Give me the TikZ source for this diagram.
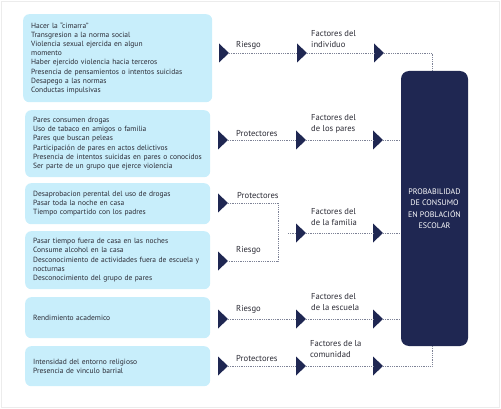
\documentclass[tikz,border=0pt]{standalone}
\usepackage{fontspec}
\setmainfont{PT Sans}
\definecolor{navy}{HTML}{1F2752}
\definecolor{lblue}{HTML}{C8EEFB}
\definecolor{txt}{HTML}{2B2B35}
\definecolor{dots}{HTML}{7D8296}
\definecolor{frame}{HTML}{ECECEC}
\tikzset{
 catbox/.style={fill=lblue, rounded corners=6pt, inner xsep=8pt, inner ysep=0pt, align=left,
   font=\fontsize{7.5}{9.2}\selectfont, text=txt, anchor=north west},
 lab/.style={inner sep=0pt, font=\fontsize{8.6}{11}\selectfont, text=txt, align=left, anchor=north west},
 link/.style={draw=dots, line width=0.6pt, dash pattern=on 0.6pt off 1.2pt},
 probbox/.style={fill=navy, rounded corners=8pt, text=white, align=center,
   font=\fontsize{8}{11.5}\selectfont, minimum width=67pt, minimum height=275pt, inner sep=0pt}
}
\newcommand\tri[3]{%
  \fill[navy] (#2,#3-9.5) -- (#2+10,#3) -- (#2,#3+9.5) -- cycle;
  \coordinate (#1w) at (#2,#3);
  \coordinate (#1e) at (#2+10,#3);}
\begin{document}
\begin{tikzpicture}[x=1pt,y=-1pt]
\useasboundingbox (0,0) rectangle (501,409);
\draw[frame, line width=0.8pt] (1,1) rectangle (499.5,407.5);

% category boxes
\node[catbox, text width=173pt, minimum height=88pt] (b1) at (23,14)
 {Hacer la “cimarra”\\Transgresion a la norma social\\Violencia sexual ejercida en algun\\momento\\Haber ejercido violencia hacia terceros\\Presencia de pensamientos o intentos suicidas\\Desapego a las normas\\Conductas impulsivas};
\node[catbox, text width=169pt, minimum height=67pt] (b2) at (25,110)
 {Pares consumen drogas\\Uso de tabaco en amigos o familia\\Pares que buscan peleas\\Participación de pares en actos delictivos\\Presencia de intentos suicidas en pares o conocidos\\Ser parte de un grupo que ejerce violencia};
\node[catbox, text width=169pt, minimum height=41pt] (b3) at (25,183)
 {Desaprobacion perental del uso de drogas\\Pasar toda la noche en casa\\Tiempo compartido con los padres};
\node[catbox, text width=169pt, minimum height=58pt] (b4) at (25,231)
 {Pasar tiempo fuera de casa en las noches\\Consume alcohol en la casa\\Desconocimiento de actividades fuera de escuela y\\nocturnas\\Desconocimiento del grupo de pares};
\node[catbox, text width=169pt, minimum height=41pt] (b5) at (25,297)
 {Rendimiento academico};
\node[catbox, text width=169pt, minimum height=40pt] (b6) at (25,346)
 {Intensidad del entorno religioso\\Presencia de vinculo barrial};

% outcome box
\node[probbox] (prob) at (434.5,208.5) {PROBABILIDAD\\DE CONSUMO\\EN POBLACIÓN\\ESCOLAR};

% triangles
\tri{t1a}{219}{53}\tri{t1b}{297}{53}\tri{t1c}{374}{53}
\tri{t2a}{218}{140}\tri{t2b}{296}{140}\tri{t2c}{373}{140}
\tri{t3a}{218}{203}\tri{t3b}{218}{261}\tri{t3c}{296}{233}\tri{t3d}{373}{233}
\tri{t5a}{218}{319}\tri{t5b}{296}{319}\tri{t5c}{373}{319}
\tri{t6a}{218}{366}\tri{t6b}{296}{366}\tri{t6c}{373}{366}

% connectors
\draw[link] (t1ae) -- (t1bw);
\draw[link] (t1be) -- (t1cw);
\draw[link] (t1ce) -| ([xshift=-2.5pt]prob.north);
\draw[link] (t2ae) -- (t2bw);
\draw[link] (t2be) -- (t2cw);
\draw[link] (t2ce) -- (t2ce -| prob.west);
\coordinate (famjoin) at (278,203);
\coordinate (famstart) at (288,233);
\draw[link] (t3ae) -- (famjoin) |- (t3be);
\draw[link] (famstart) -- (t3cw);
\draw[link] (t3ce) -- (t3dw);
\draw[link] (t3de) -- (t3de -| prob.west);
\draw[link] (t5ae) -- (t5bw);
\draw[link] (t5be) -- (t5cw);
\draw[link] (t5ce) -- (t5ce -| prob.west);
\draw[link] (t6ae) -- (t6bw);
\draw[link] (t6be) -- (t6cw);
\draw[link] (t6ce) -| ([xshift=-2.5pt]prob.south);

% labels
\node[lab] (l1a) at (236,41.5) {Riesgo};
\node[lab] (l1b) at (311,30) {Factores del\\individuo};
\node[lab] (l2a) at (236,130.5) {Protectores};
\node[lab] (l2b) at (311,114) {Factores del\\de los pares};
\node[lab] (l3a) at (237,192.5) {Protectores};
\node[lab] (l3b) at (236,246.5) {Riesgo};
\node[lab] (l3c) at (311,208.5) {Factores del\\de la familia};
\node[lab] (l5a) at (236,305.5) {Riesgo};
\node[lab] (l5b) at (311,293.5) {Factores del\\de la escuela};
\node[lab] (l6a) at (236,355) {Protectores};
\node[lab] (l6b) at (310,340) {Factores de la\\comunidad};
\end{tikzpicture}
\end{document}
